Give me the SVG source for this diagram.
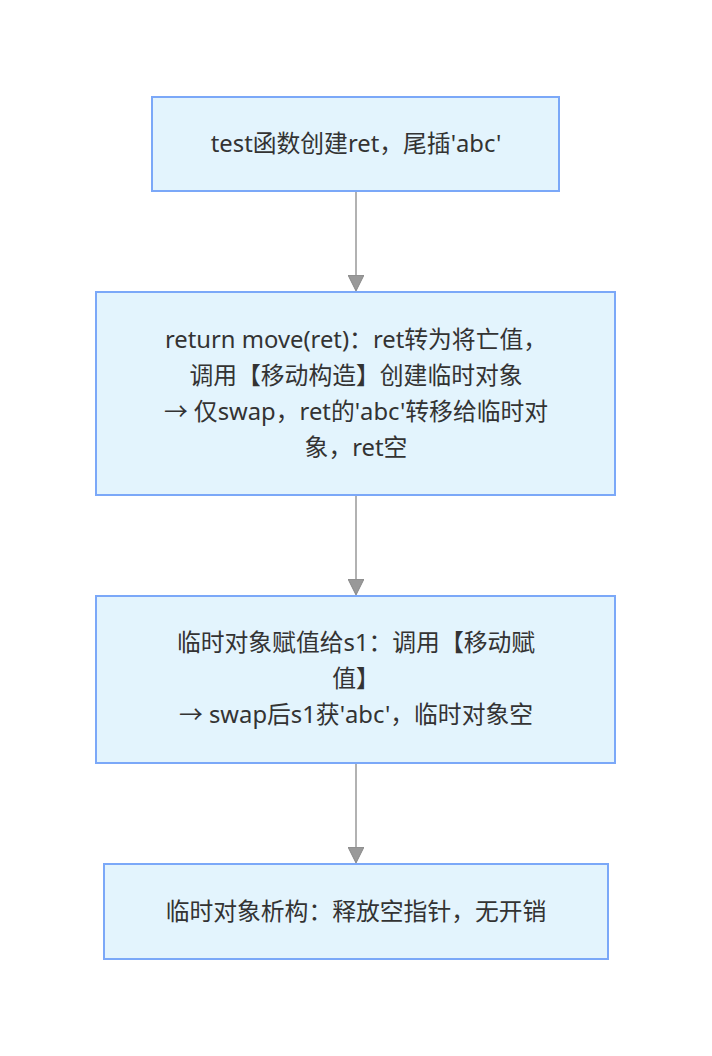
<svg xmlns="http://www.w3.org/2000/svg" width="712" height="1056" viewBox="0 0 712 1056">
<defs>
<style>
.node rect{fill:#e3f4fd;stroke:#7ba8f8;stroke-width:2}
.node text{font-family:"Noto Sans","Noto Sans CJK SC",sans-serif;font-size:23.8px;fill:#333;text-anchor:middle}
.edge{stroke:#999;stroke-width:1.5;fill:none}
</style>
<marker id="ah" markerWidth="16" markerHeight="16" refX="15" refY="8" orient="auto" markerUnits="userSpaceOnUse" viewBox="0 0 16 16">
<path d="M0,0 L16,8 L0,16 Z" fill="#999" stroke="#888" stroke-width="1"/>
</marker>
</defs>
<rect width="712" height="1056" fill="#fff"/>
<g id="connectors">
<line class="edge" x1="356" y1="192" x2="356" y2="290" marker-end="url(#ah)"/>
<line class="edge" x1="356" y1="496" x2="356" y2="594" marker-end="url(#ah)"/>
<line class="edge" x1="356" y1="764" x2="356" y2="862" marker-end="url(#ah)"/>
</g>
<g id="n1" class="node">
<rect x="152" y="97" width="407" height="94"/>
<text x="356" y="152">test函数创建ret，尾插'abc'</text>
</g>
<g id="n2" class="node">
<rect x="96" y="292" width="519" height="203"/>
<text x="356" y="348">return move(ret)：ret转为将亡值，</text>
<text x="356" y="384">调用【移动构造】创建临时对象</text>
<text x="356" y="420">→ 仅swap，ret的'abc'转移给临时对</text>
<text x="356" y="456">象，ret空</text>
</g>
<g id="n3" class="node">
<rect x="96" y="596" width="519" height="167"/>
<text x="356" y="651">临时对象赋值给s1：调用【移动赋</text>
<text x="356" y="687">值】</text>
<text x="356" y="723">→ swap后s1获'abc'，临时对象空</text>
</g>
<g id="n4" class="node">
<rect x="104" y="864" width="504" height="95"/>
<text x="356" y="920">临时对象析构：释放空指针，无开销</text>
</g>
</svg>
